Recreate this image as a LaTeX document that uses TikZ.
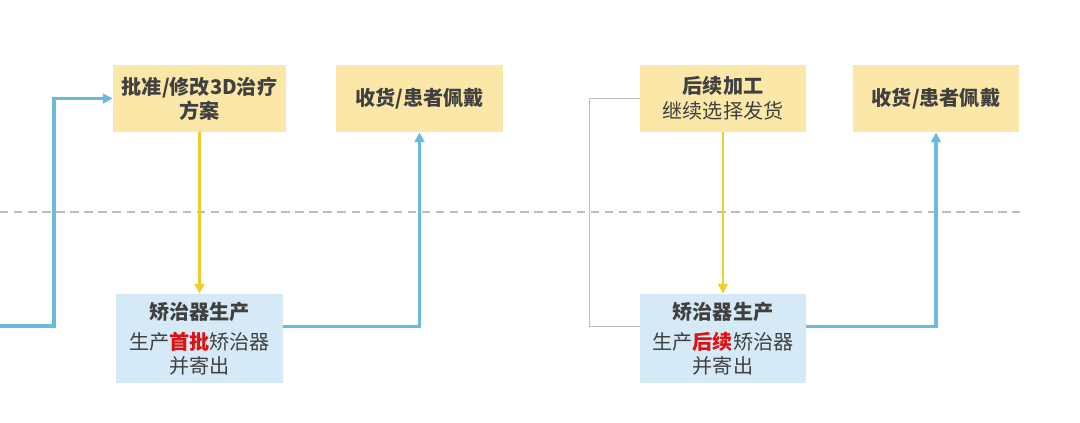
\documentclass[tikz,border=0pt]{standalone}
\usepackage{fontspec}
\setmainfont{Noto Sans CJK SC}
\usetikzlibrary{arrows.meta}
\definecolor{ylwfill}{HTML}{FBE8A8}
\definecolor{blufill}{HTML}{D5EAF6}
\definecolor{bluline}{HTML}{6CB9DF}
\definecolor{ylwline}{HTML}{F2CB2E}
\definecolor{gryline}{HTML}{BDBDBD}
\definecolor{txt}{HTML}{404040}
\definecolor{hot}{HTML}{E01010}

\begin{document}
\begin{tikzpicture}[x=0.025cm,y=-0.025cm,>={Triangle[length=7pt,width=7pt]}]
\tikzset{ybox/.style={fill=ylwfill,text=txt,align=center,inner sep=0pt,
    minimum width=4.15cm,minimum height=1.68cm,font=\fontsize{14.3}{17}\selectfont\bfseries},
  bbox/.style={fill=blufill,text=txt,align=center,inner sep=0pt,
    minimum width=4.15cm,minimum height=2.23cm,font=\fontsize{14.3}{16.5}\selectfont},
  blu/.style={bluline,line width=2.2pt},
  ylw/.style={ylwline,line width=1.6pt,->},
  gry/.style={gryline,line width=1pt}}
\useasboundingbox (0,0) rectangle (1080,422);
% ================= separator =================
\draw[gryline,line width=1pt,dash pattern=on 6pt off 4pt] (0,212) -- (1020,212);
% ================= first batch =================
\node[ybox,minimum width=4.33cm] (plan) at (199.5,98.5) {批准/修改3D治疗\\方案};
\node[ybox] (recv1) at (419.5,98.5) {收货/患者佩戴};
\node[bbox] (make1) at (199.5,338.5) {{\bfseries 矫治器生产}\\[5pt]
  生产{\bfseries\color{hot}首批}矫治器\\并寄出};
\coordinate (start) at (0,326);
\draw[blu,->] (start) -- ++(54,0) |- (plan.west);
\draw[ylw] (plan.south) -- (make1.north);
\draw[blu,->] ([yshift=0.3cm]make1.east) -| (recv1.south);
% ================= follow-up batch =================
\node[ybox] (post) at (723,98.5) {后续加工\\[1pt]{\mdseries 继续选择发货}};
\node[ybox] (recv2) at (936,98.5) {收货/患者佩戴};
\node[bbox] (make2) at (723,338.5) {{\bfseries 矫治器生产}\\[5pt]
  生产{\bfseries\color{hot}后续}矫治器\\并寄出};
\draw[gry] (post.west) -- ++(-50,0) |- ([yshift=0.3cm]make2.west);
\draw[ylw] (post.south) -- (make2.north);
\draw[blu,->] ([yshift=0.3cm]make2.east) -| (recv2.south);
\end{tikzpicture}
\end{document}
